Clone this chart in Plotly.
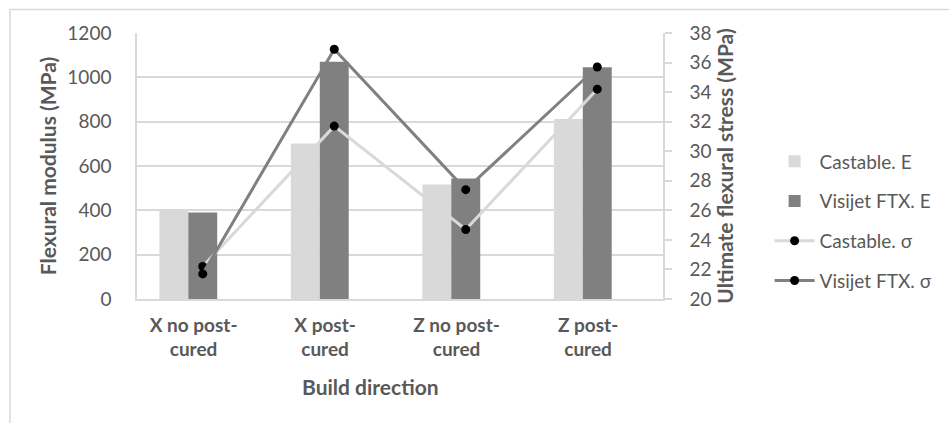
import plotly.graph_objects as go

# Build directions and measured properties
categories = ["X no post-<br>cured", "X post-<br>cured", "Z no post-<br>cured", "Z post-<br>cured"]
castable_E = [405, 702, 517, 812]          # flexural modulus, MPa
visijet_E = [390, 1070, 544, 1045]         # flexural modulus, MPa
castable_sigma = [22.2, 31.7, 24.7, 34.2]  # ultimate flexural stress, MPa
visijet_sigma = [21.7, 36.9, 27.4, 35.7]   # ultimate flexural stress, MPa
left_ticks = [0, 200, 400, 600, 800, 1000, 1200]
right_ticks = [20, 22, 24, 26, 28, 30, 32, 34, 36, 38]

LIGHT = "#d9d9d9"
DARK = "#808080"
TEXT = "#595959"
FONT = "Lato"

W, H = 949, 423
ML, MR, MT, MB = 137, 284, 33, 124
PW, PH = W - ML - MR, H - MT - MB

idx = list(range(len(categories)))
bar_x = [i - 0.11 for i in idx]  # bar pair sits left of the category centre

fig = go.Figure()
fig.add_trace(go.Bar(x=bar_x, y=castable_E, name="Castable. E", marker_color=LIGHT,
                     marker_line_width=0, offsetgroup="a", legendgroup="g1"))
fig.add_trace(go.Bar(x=bar_x, y=visijet_E, name="Visijet FTX. E", marker_color=DARK,
                     marker_line_width=0, offsetgroup="b", legendgroup="g2"))
fig.add_trace(go.Scatter(x=idx, y=castable_sigma, name="Castable. σ", yaxis="y2",
                         mode="lines+markers", line=dict(color=LIGHT, width=3),
                         marker=dict(color="black", size=9), legendgroup="g3"))
fig.add_trace(go.Scatter(x=idx, y=visijet_sigma, name="Visijet FTX. σ", yaxis="y2",
                         mode="lines+markers", line=dict(color=DARK, width=3),
                         marker=dict(color="black", size=9), legendgroup="g4"))


def px_x(p):
    return (p - ML) / PW


def px_y(p):
    return (H - MB - p) / PH


TITLE_FONT = dict(family=FONT, size=21, color=TEXT, weight="bold")

fig.update_layout(
    width=W, height=H,
    margin=dict(l=ML, r=MR, t=MT, b=MB),
    paper_bgcolor="white", plot_bgcolor="white",
    barmode="group", bargap=0.56, bargroupgap=0,
    font=dict(family=FONT, size=19, color=TEXT),
    showlegend=True,
    legend=dict(x=px_x(772), y=px_y(221), xanchor="left", yanchor="middle",
                font=dict(family=FONT, size=19, color=TEXT),
                tracegroupgap=12, itemwidth=40, bgcolor="rgba(0,0,0,0)"),
    xaxis=dict(range=[-0.5, 3.5], tickmode="array", tickvals=[i - 0.07 for i in idx],
               ticktext=categories, showgrid=False, zeroline=False,
               showline=True, linecolor=LIGHT, linewidth=1.5,
               tickfont=dict(family=FONT, size=19, color=TEXT, weight="bold"),
               ticks="", ticklabelstandoff=8),
    yaxis=dict(range=[0, 1200], tickmode="array", tickvals=left_ticks,
               showgrid=True, gridcolor=LIGHT, gridwidth=1.5, zeroline=False,
               showline=True, linecolor=LIGHT, linewidth=1.5, ticks="",
               ticklabelstandoff=20,
               title=dict(text="Flexural modulus (MPa)", standoff=5, font=TITLE_FONT)),
    yaxis2=dict(range=[20, 38], tickmode="array", tickvals=right_ticks,
                overlaying="y", side="right", showgrid=False, zeroline=False,
                showline=True, linecolor=LIGHT, linewidth=1.5,
                ticks="outside", ticklen=7, tickcolor=LIGHT, tickwidth=1.5,
                ticklabelstandoff=14,
                title=dict(text="Ultimate flexural stress (MPa)", standoff=5,
                           font=TITLE_FONT)),
    annotations=[dict(text="Build direction", x=px_x(371), y=px_y(386),
                      xref="paper", yref="paper", showarrow=False,
                      xanchor="center", yanchor="middle", font=TITLE_FONT)],
    shapes=[dict(type="rect", xref="paper", yref="paper",
                 x0=px_x(9.5), x1=px_x(960), y0=px_y(440), y1=px_y(9.5),
                 line=dict(color=LIGHT, width=1.5), fillcolor="rgba(0,0,0,0)",
                 layer="below")],
)

fig.write_html("out.html")
